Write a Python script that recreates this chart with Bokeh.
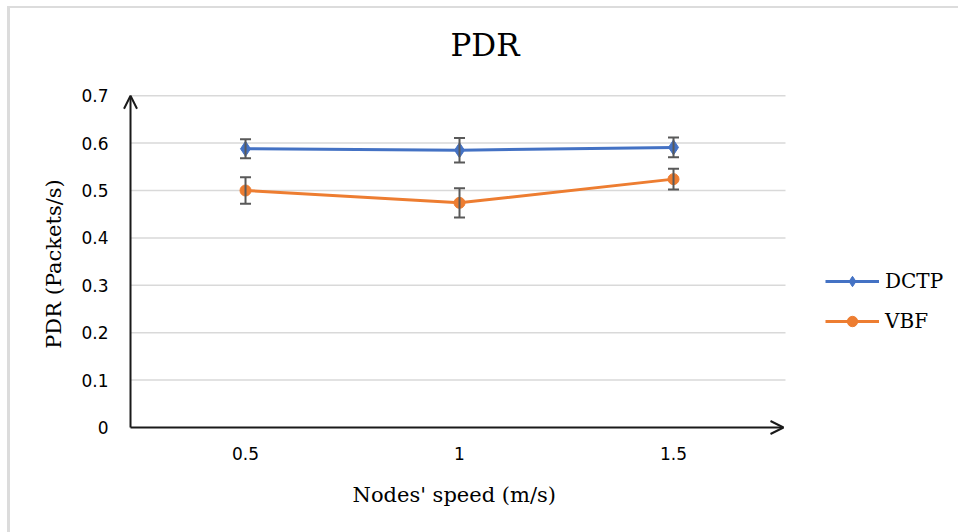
from bokeh.plotting import figure
from bokeh.models import (ColumnDataSource, Range1d, Whisker, TeeHead, Arrow, OpenHead,
                          Legend, LegendItem, FixedTicker, Title)
from bokeh.embed import file_html
from bokeh.resources import INLINE

# ---- data ----
speeds = [0.5, 1.0, 1.5]
speed_labels = ["0.5", "1", "1.5"]
dctp = [0.588, 0.585, 0.591]
dctp_err = [0.020, 0.026, 0.021]
vbf = [0.500, 0.474, 0.524]
vbf_err = [0.028, 0.031, 0.022]
y_ticks = [0, 0.1, 0.2, 0.3, 0.4, 0.5, 0.6, 0.7]
y_tick_labels = ["0", "0.1", "0.2", "0.3", "0.4", "0.5", "0.6", "0.7"]

BLUE = "#4472C4"
ORANGE = "#ED7D31"
ERR = "#595959"
GRID = "#D9D9D9"
AXIS = "#1a1a1a"
SERIF = "DejaVu Serif"
SANS = "DejaVu Sans"

# ranges (axis origin sits slightly inside the frame so arrow heads are not clipped;
# frame extends to the right to host the legend)
X_START, X_END = 0.2079, 2.1472
X_AXIS, X_TIP, X_GRID_END = 0.2313, 1.757, 1.7617
Y_START, Y_END = -0.0211, 0.711

p = figure(width=958, height=532, output_backend="svg", toolbar_location=None,
           x_range=Range1d(X_START, X_END), y_range=Range1d(Y_START, Y_END),
           min_border_left=120, min_border_right=8, min_border_top=90, min_border_bottom=95)
p.styles = {"box-shadow": "inset 7px 6px 0 0 #ffffff, inset 10px 8px 0 0 #dcdcdc"}
p.border_fill_color = None
p.outline_line_color = None
p.background_fill_color = "white"

# spacer + chart title
p.add_layout(Title(text=" ", text_font_size="10px"), "above")
p.add_layout(Title(text="PDR", text_font=SERIF, text_font_size="31px", text_font_style="normal",
                   align="left", offset=330, text_color="#000000"), "above")

# axes (tick labels only; lines drawn as arrows)
p.xaxis.ticker = FixedTicker(ticks=speeds)
p.xaxis.major_label_overrides = {s: l for s, l in zip(speeds, speed_labels)}
p.yaxis.ticker = FixedTicker(ticks=y_ticks)
p.yaxis.major_label_overrides = {t: l for t, l in zip(y_ticks, y_tick_labels)}
for ax in (p.xaxis, p.yaxis):
    ax.axis_line_color = None
    ax.major_tick_line_color = None
    ax.minor_tick_line_color = None
    ax.major_tick_out = 0
    ax.major_tick_in = 0
    ax.major_label_text_font = SANS
    ax.major_label_text_font_size = "17px"
    ax.major_label_text_color = "#000000"
    ax.axis_label_text_font = SERIF
    ax.axis_label_text_font_size = "21px"
    ax.axis_label_text_font_style = "normal"
    ax.axis_label_text_color = "#000000"
p.yaxis.axis_label = "PDR (Packets/s)"
p.xaxis.major_label_standoff = 9
p.yaxis.major_label_standoff = 12
p.yaxis.axis_label_standoff = 12

# x axis title, centred under the plotted axis span (small spacer first)
p.add_layout(Title(text=" ", text_font_size="1px"), "below")
p.add_layout(Title(text="Nodes' speed (m/s)", text_font=SERIF, text_font_size="21px",
                   text_font_style="normal", align="left", offset=232, text_color="#000000"), "below")

p.xgrid.grid_line_color = None
p.ygrid.grid_line_color = None

# horizontal gridlines from the axis to the right end
grid_y = y_ticks[1:]
p.segment(x0=[X_AXIS] * len(grid_y), y0=grid_y, x1=[X_GRID_END] * len(grid_y), y1=grid_y,
          line_color=GRID, line_width=1.5)

# axis arrows
p.add_layout(Arrow(end=OpenHead(size=13, line_width=2, line_color=AXIS),
                   x_start=X_AXIS, y_start=0, x_end=X_TIP, y_end=0,
                   line_width=2, line_color=AXIS))
p.add_layout(Arrow(end=OpenHead(size=13, line_width=2, line_color=AXIS),
                   x_start=X_AXIS, y_start=0, x_end=X_AXIS, y_end=0.7,
                   line_width=2, line_color=AXIS))

# error bars
for vals, errs in ((dctp, dctp_err), (vbf, vbf_err)):
    src = ColumnDataSource(dict(x=speeds,
                                upper=[v + e for v, e in zip(vals, errs)],
                                lower=[v - e for v, e in zip(vals, errs)]))
    w = Whisker(source=src, base="x", upper="upper", lower="lower",
                line_color=ERR, line_width=2,
                upper_head=TeeHead(size=11, line_color=ERR, line_width=2),
                lower_head=TeeHead(size=11, line_color=ERR, line_width=2),
                level="glyph")
    p.add_layout(w)

src_d = ColumnDataSource(dict(x=speeds, y=dctp))
src_v = ColumnDataSource(dict(x=speeds, y=vbf))
ld = p.line("x", "y", source=src_d, line_color=BLUE, line_width=3)
md = p.scatter("x", "y", source=src_d, marker="diamond", size=15, fill_color=BLUE, line_color=BLUE)
lv = p.line("x", "y", source=src_v, line_color=ORANGE, line_width=3)
mv = p.scatter("x", "y", source=src_v, marker="circle", size=11, fill_color=ORANGE, line_color=ORANGE)

legend = Legend(items=[LegendItem(label="DCTP", renderers=[ld, md]),
                       LegendItem(label="VBF", renderers=[lv, mv])],
                location=(705, 103), padding=0, margin=0, spacing=14,
                glyph_width=54, glyph_height=26, label_standoff=6,
                label_text_font=SERIF, label_text_font_size="20px", label_text_color="#000000",
                border_line_color=None, background_fill_alpha=0)
p.add_layout(legend, "center")

open("out.html", "w").write(file_html(p, INLINE))
